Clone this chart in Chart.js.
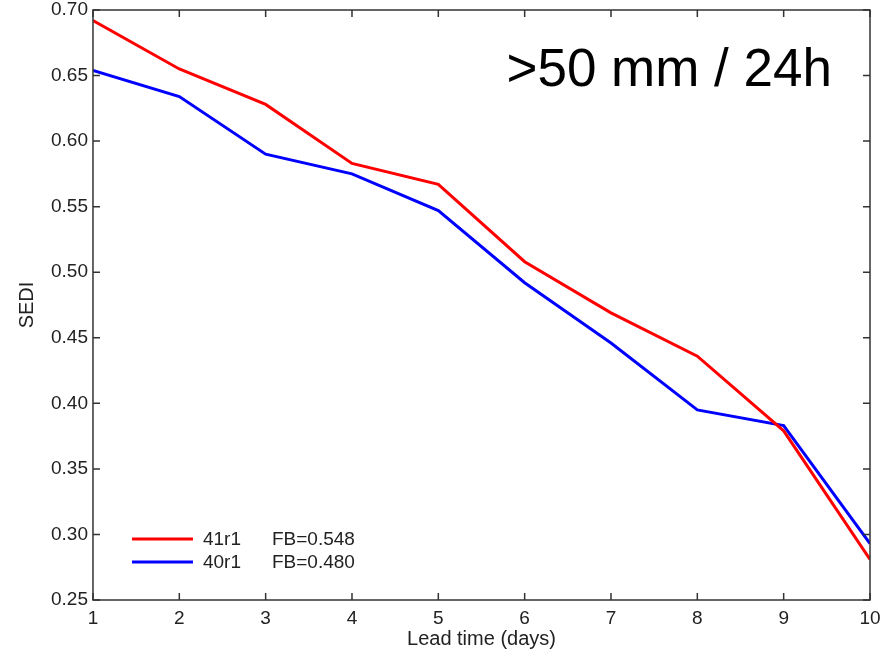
<!DOCTYPE html>
<html>
<head>
<meta charset="utf-8">
<script src="https://cdn.jsdelivr.net/npm/chart.js@4"></script>
<style>
	html, body { margin: 0; padding: 0; background: #fff; }
	#wrap { width: 894px; height: 652px; }
</style>
</head>
<body>
<div id="wrap"><canvas id="myChart" width="894" height="652"></canvas></div>
<script>
const leadDays = [1, 2, 3, 4, 5, 6, 7, 8, 9, 10];
const sedi41r1 = [0.692, 0.655, 0.628, 0.583, 0.567, 0.508, 0.469, 0.436, 0.379, 0.281];
const sedi40r1 = [0.654, 0.634, 0.590, 0.575, 0.547, 0.492, 0.446, 0.395, 0.383, 0.293];
const seriesNames = ['41r1', '40r1'];
const fbScores = ['FB=0.548', 'FB=0.480'];
const panelTitle = '>50 mm / 24h';

const font = 'Liberation Sans, Arial, Helvetica, sans-serif';

function toPoints(ys) {
	return leadDays.map((d, i) => ({ x: d, y: ys[i] }));
}

// inward ticks on all four sides, legend and title inside the axes
const boxDecor = {
	id: 'boxDecor',
	afterDraw(chart) {
		const ctx = chart.ctx;
		const a = chart.chartArea;
		const xs = chart.scales.x;
		const ys = chart.scales.y;
		const len = 7;
		ctx.save();
		ctx.strokeStyle = '#333';
		ctx.lineWidth = 1.5;
		ctx.beginPath();
		xs.ticks.forEach(t => {
			const px = xs.getPixelForValue(t.value);
			ctx.moveTo(px, a.bottom);
			ctx.lineTo(px, a.bottom - len);
			ctx.moveTo(px, a.top);
			ctx.lineTo(px, a.top + len);
		});
		ys.ticks.forEach(t => {
			const py = ys.getPixelForValue(t.value);
			ctx.moveTo(a.left, py);
			ctx.lineTo(a.left + len, py);
			ctx.moveTo(a.right, py);
			ctx.lineTo(a.right - len, py);
		});
		ctx.stroke();
		ctx.strokeRect(a.left, a.top, a.right - a.left, a.bottom - a.top);

		// legend
		ctx.font = '19px ' + font;
		ctx.textBaseline = 'middle';
		ctx.fillStyle = '#222';
		chart.data.datasets.forEach((ds, i) => {
			const y = a.bottom - 61 + i * 23;
			ctx.strokeStyle = ds.borderColor;
			ctx.lineWidth = 3;
			ctx.beginPath();
			ctx.moveTo(a.left + 39, y);
			ctx.lineTo(a.left + 100, y);
			ctx.stroke();
			ctx.fillText(ds.label, a.left + 110, y + 1);
			ctx.fillText(fbScores[i], a.left + 179, y + 1);
		});

		// panel title
		ctx.font = '53px ' + font;
		ctx.fillStyle = '#000';
		ctx.textBaseline = 'alphabetic';
		ctx.textAlign = 'right';
		ctx.fillText(panelTitle, a.right - 38, 86);
		ctx.restore();
	},
};

const config = {
	type: 'line',
	data: {
		datasets: [
			{
				label: seriesNames[0],
				data: toPoints(sedi41r1),
				borderColor: '#ff0000',
				borderWidth: 3,
				pointRadius: 0,
				fill: false,
			},
			{
				label: seriesNames[1],
				data: toPoints(sedi40r1),
				borderColor: '#0000ff',
				borderWidth: 3,
				pointRadius: 0,
				fill: false,
			},
		],
	},
	options: {
		responsive: false,
		animation: false,
		layout: { padding: { top: 0, right: 24, left: 15, bottom: 0 } },
		plugins: { legend: { display: false }, tooltip: { enabled: false } },
		scales: {
			x: {
				type: 'linear',
				min: 1,
				max: 10,
				grid: { display: false, drawTicks: false },
				border: { display: false },
				ticks: { stepSize: 1, color: '#222', padding: 9, font: { family: font, size: 19, lineHeight: 1.0 } },
				title: { display: true, text: 'Lead time (days)', color: '#222', padding: { top: 0, bottom: 3 }, font: { family: font, size: 20, lineHeight: 1.0 } },
				afterFit: s => {
					s.height = 52;
				},
			},
			y: {
				min: 0.25,
				max: 0.7,
				grid: { display: false, drawTicks: false },
				border: { display: false },
				ticks: {
					stepSize: 0.05,
					color: '#222',
					padding: 5,
					font: { family: font, size: 19, lineHeight: 1.0 },
					callback: v => v.toFixed(2),
				},
				title: { display: true, text: 'SEDI', color: '#222', padding: { top: 0, bottom: 7 }, font: { family: font, size: 20 } },
				afterFit: s => {
					s.paddingTop = 10;
				},
			},
		},
	},
	plugins: [boxDecor],
};

const myChart = new Chart(document.getElementById('myChart'), config);
</script>
</body>
</html>
